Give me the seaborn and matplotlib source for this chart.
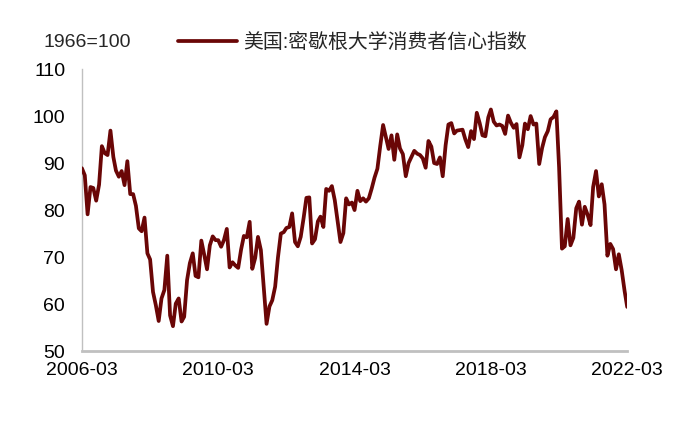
import numpy as np
import pandas as pd
import matplotlib
matplotlib.use("Agg")
import matplotlib.pyplot as plt
import seaborn as sns

# 美国:密歇根大学消费者信心指数, 月度, 2006-03 ~ 2022-03
start_month = "2006-03"
sentiment = [
    88.9, 87.4, 79.1, 84.9, 84.7, 82.0, 85.4, 93.6, 92.1, 91.7,
    96.9, 91.3, 88.4, 87.1, 88.3, 85.3, 90.4, 83.4, 83.4, 80.9, 76.1, 75.5,
    78.4, 70.8, 69.5, 62.6, 59.8, 56.4, 61.2, 63.0, 70.3, 57.6, 55.3, 60.1,
    61.2, 56.3, 57.3, 65.1, 68.7, 70.8, 66.0, 65.7, 73.5, 70.6, 67.4, 72.5,
    74.4, 73.6, 73.6, 72.2, 73.6, 76.0, 67.8, 68.9, 68.2, 67.7, 71.6, 74.5,
    74.2, 77.5, 67.5, 69.8, 74.3, 71.5, 63.7, 55.8, 59.5, 60.8, 63.7, 69.9,
    75.0, 75.3, 76.2, 76.4, 79.3, 73.2, 72.3, 74.3, 78.3, 82.6, 82.7, 72.9,
    73.8, 77.6, 78.6, 76.4, 84.5, 84.1, 85.1, 82.1, 77.5, 73.2, 75.1, 82.5,
    81.2, 81.6, 80.0, 84.1, 81.9, 82.5, 81.8, 82.5, 84.6, 86.9, 88.8, 93.6,
    98.1, 95.4, 93.0, 95.9, 90.7, 96.1, 93.1, 91.9, 87.2, 90.0, 91.3, 92.6,
    92.0, 91.7, 91.0, 89.0, 94.7, 93.5, 90.0, 89.8, 91.2, 87.2, 93.8, 98.2,
    98.5, 96.3, 96.9, 97.0, 97.1, 95.0, 93.4, 96.8, 95.1, 100.7, 98.5, 95.9,
    95.7, 99.7, 101.4, 98.8, 98.0, 98.2, 97.9, 96.2, 100.1, 98.6, 97.5, 98.3,
    91.2, 93.8, 98.4, 97.2, 100.0, 98.2, 98.4, 89.8, 93.2, 95.5, 96.8, 99.3,
    99.8, 101.0, 89.1, 71.8, 72.3, 78.1, 72.5, 74.1, 80.4, 81.8, 76.9, 80.7,
    79.0, 76.8, 84.9, 88.3, 82.9, 85.5, 81.2, 70.3, 72.8, 71.7, 67.4, 70.6,
    67.2, 62.8, 59.4,
]
x_ticks = ["2006-03", "2010-03", "2014-03", "2018-03", "2022-03"]
y_ticks = [50, 60, 70, 80, 90, 100, 110]
series_name = "美国:密歇根大学消费者信心指数"
unit_label = "1966=100"

dates = pd.date_range(start_month, periods=len(sentiment), freq="MS")
df = pd.DataFrame({"date": dates, "value": sentiment})

sns.set_style("white")
plt.rcParams["font.family"] = ["Liberation Sans", "Noto Sans CJK SC"]

line_color = "#6a0606"
axis_color = "#c0c0c0"
fsize = 14

fig = plt.figure(figsize=(7, 4.21), dpi=100)
ax = fig.add_axes([0.117, 0.166, 0.779, 0.670])

sns.lineplot(data=df, x="date", y="value", ax=ax, color=line_color,
             linewidth=2.7, label=series_name)

tick_dates = pd.to_datetime(x_ticks)
ax.set_xlim(dates[0], dates[-1])
ax.set_xticks(tick_dates)
ax.set_xticklabels(x_ticks)
ax.set_ylim(y_ticks[0], y_ticks[-1])
ax.set_yticks(y_ticks)
ax.set_xlabel("")
ax.set_ylabel("")

for side in ["top", "right"]:
    ax.spines[side].set_visible(False)
ax.spines["left"].set_color(axis_color)
ax.spines["left"].set_linewidth(1.0)
ax.spines["bottom"].set_color(axis_color)
ax.spines["bottom"].set_linewidth(2.0)
ax.spines["left"].set_zorder(0)
ax.spines["bottom"].set_zorder(0)

ax.tick_params(axis="y", direction="out", length=5, width=1, color=axis_color,
               labelsize=fsize, pad=7, labelcolor="black")
ax.tick_params(axis="x", direction="in", length=6, width=1.5, color=axis_color,
               labelsize=fsize, pad=8, labelcolor="black")

ax.legend(loc="center left", bbox_to_anchor=(0.254, 0.900),
          bbox_transform=fig.transFigure, frameon=False,
          fontsize=14.3, handlelength=3.0, handletextpad=0.3,
          borderaxespad=0, borderpad=0)
fig.text(0.062, 0.900, unit_label, fontsize=fsize, va="center", ha="left")

fig.savefig("out.png", dpi=100)
